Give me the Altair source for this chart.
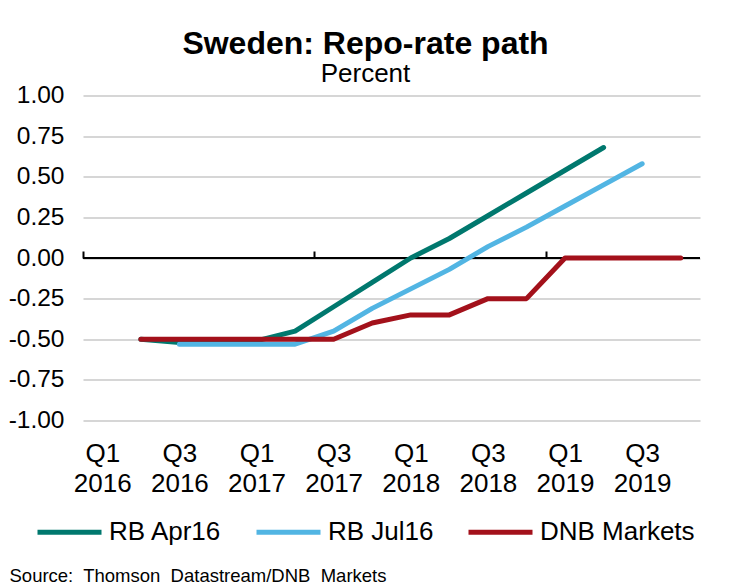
import altair as alt
import pandas as pd

# ---- data ----
quarters = ["Q1 2016", "Q2 2016", "Q3 2016", "Q4 2016",
            "Q1 2017", "Q2 2017", "Q3 2017", "Q4 2017",
            "Q1 2018", "Q2 2018", "Q3 2018", "Q4 2018",
            "Q1 2019", "Q2 2019", "Q3 2019", "Q4 2019"]
series_names = ["RB Apr16", "RB Jul16", "DNB Markets"]
rb_apr16 = [None, -0.50, -0.52, -0.52, -0.51, -0.45, -0.30, -0.15,
            0.00, 0.12, 0.26, 0.40, 0.54, 0.68, None, None]
rb_jul16 = [None, None, -0.53, -0.53, -0.53, -0.53, -0.45, -0.31,
            -0.19, -0.07, 0.07, 0.19, 0.32, 0.45, 0.58, None]
dnb_markets = [None, -0.50, -0.50, -0.50, -0.50, -0.50, -0.50, -0.40,
               -0.35, -0.35, -0.25, -0.25, 0.00, 0.00, 0.00, 0.00]
series_colors = ["#00786E", "#52B5E3", "#A3111B"]
y_ticks = [1.0, 0.75, 0.5, 0.25, 0.0, -0.25, -0.5, -0.75, -1.0]
title_text = "Sweden: Repo-rate path"
subtitle_text = "Percent"
source_text = "Source:\u00a0 Thomson\u00a0 Datastream/DNB\u00a0 Markets"

# ---- tables ----
rows = []
for name, vals in zip(series_names, [rb_apr16, rb_jul16, dnb_markets]):
    for i, (q, v) in enumerate(zip(quarters, vals)):
        if v is not None:
            rows.append({"series": name, "quarter": q, "pos": i + 0.5, "value": v})
df = pd.DataFrame(rows)

n = len(quarters)
label_pos = [i + 0.5 for i in range(0, n, 2)]
tick_bounds = [0, 6, 12]
axis_df = pd.DataFrame({"start": [0], "end": [n], "level": [0]})

quarter_js = "[" + ",".join("'" + q + "'" for q in quarters) + "]"

xscale = alt.Scale(domain=[0, n], nice=False, zero=False)
yscale = alt.Scale(domain=[-1, 1], nice=False)

W, H = 617, 325

y_axis = alt.Axis(values=y_ticks,
                  labelExpr="(datum.value < 0 ? '-' : '') + format(abs(datum.value), '.2f')",
                  domain=False, ticks=False, grid=True, gridColor="#D6D6D6",
                  gridWidth=2, labelFontSize=24.5, labelColor="black",
                  labelPadding=19, title=None)

zero_line = alt.Chart(axis_df).mark_rule(color="black", strokeWidth=2).encode(
    x=alt.X("start:Q", scale=xscale,
            axis=alt.Axis(orient="top", values=tick_bounds, labels=False, domain=False,
                          ticks=True, tickColor="black", tickWidth=2, tickSize=7,
                          grid=False, title=None, offset=-H / 2)),
    x2="end:Q",
    y=alt.Y("level:Q", scale=yscale, axis=y_axis),
)

lines = alt.Chart(df).mark_line(strokeWidth=5, strokeCap="round", strokeJoin="round").encode(
    x=alt.X("pos:Q", scale=xscale,
            axis=alt.Axis(orient="bottom", values=label_pos,
                          labelExpr="split(" + quarter_js + "[floor(datum.value)], ' ')",
                          domain=False, ticks=False, grid=False,
                          labelFontSize=26, labelColor="black", labelPadding=20,
                          labelLineHeight=30, labelFlush=False, labelOverlap=False,
                          labelBaseline="top",
                          title=source_text, titleX=-74, titleY=161,
                          titleAnchor="start", titleAlign="left", titleFontSize=18.5,
                          titleFontWeight="normal", titleColor="black",
                          titleBaseline="alphabetic", titleAngle=0)),
    y=alt.Y("value:Q", scale=yscale, axis=y_axis),
    color=alt.Color("series:N",
                    scale=alt.Scale(domain=series_names, range=series_colors),
                    sort=series_names,
                    legend=alt.Legend(orient="none", legendX=-48, legendY=402,
                                      direction="horizontal", title=None,
                                      symbolType="stroke", symbolSize=4096,
                                      symbolStrokeWidth=5, labelFontSize=26,
                                      labelColor="black", labelOffset=5,
                                      columnPadding=24)),
)

chart = alt.layer(zero_line, lines).resolve_axis(x="independent").properties(
    width=W, height=H,
    autosize=alt.AutoSizeParams(type="none"),
    padding={"left": 75, "top": 87.5, "right": 23, "bottom": 166.5},
    title=alt.TitleParams(text=title_text, subtitle=subtitle_text, fontSize=32,
                          fontWeight="bold", color="black", subtitleFontSize=26,
                          subtitleColor="black", subtitlePadding=0,
                          anchor="middle", frame="group", dx=-26, offset=-5),
).configure(font="Liberation Sans").configure_view(stroke=None)

chart.save("out.html", embed_options={"renderer": "svg", "actions": False})
